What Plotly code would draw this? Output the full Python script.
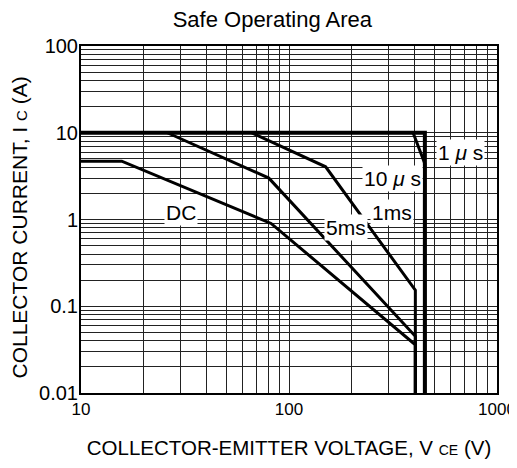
import numpy as np
import plotly.graph_objects as go

# ---- data ----
v_1us = [10, 450, 450]
i_1us = [10, 10, 0.01]

v_10us = [395, 450, 450]
i_10us = [10, 4.4, 0.01]

v_1ms = [66, 150, 405, 405]
i_1ms = [10, 4.05, 0.153, 0.01]

v_5ms = [26, 80, 405, 405]
i_5ms = [10, 3.0, 0.045, 0.01]

v_dc = [10, 15.7, 82, 405, 405]
i_dc = [4.7, 4.7, 0.9, 0.036, 0.01]

label_text = ["1 <i>μ</i> s", "10 <i>μ</i> s", "1ms", "5ms", "DC"]
label_v = [666, 314, 314, 187, 30.3]
label_i = [6.0, 3.0, 1.22, 0.80, 1.22]

x_tickvals = [10, 100, 1000]
x_ticktext = ["10", "100", "1000"]
y_tickvals = [0.01, 0.1, 1, 10, 100]
y_ticktext = ["0.01", "0.1", "1", "10", "100"]

FONT = "Liberation Sans, Arial, sans-serif"

fig = go.Figure()
series = [
    (v_1us, i_1us, 4),
    (v_10us, i_10us, 3),
    (v_1ms, i_1ms, 3),
    (v_5ms, i_5ms, 3),
    (v_dc, i_dc, 3),
]
for v, i, w in series:
    fig.add_trace(go.Scatter(x=v, y=i, mode="lines",
                             line=dict(color="black", width=w),
                             showlegend=False, hoverinfo="skip"))

for t, v, i in zip(label_text, label_v, label_i):
    fig.add_annotation(x=np.log10(v), y=np.log10(i), xref="x", yref="y",
                       text=t, showarrow=False, bgcolor="white",
                       font=dict(family=FONT, size=21, color="black"),
                       borderpad=1)

# y-axis title (rotated)
fig.add_annotation(x=0, y=0.5, xref="paper", yref="paper", xanchor="center", yanchor="middle",
                   xshift=-62, yshift=-8, textangle=-90, showarrow=False, borderpad=0,
                   text="COLLECTOR CURRENT, I <span style='font-size:15px'>C</span> (A)",
                   font=dict(family=FONT, size=21, color="black"))

grid_col = "#222222"
fig.update_xaxes(type="log", range=[1, 3], tickvals=x_tickvals, ticktext=x_ticktext,
                 showgrid=True, gridcolor=grid_col, gridwidth=1,
                 minor=dict(dtick="D1", showgrid=True, gridcolor=grid_col, gridwidth=1, ticks=""),
                 showline=True, linecolor="black", linewidth=2, mirror=True,
                 ticks="", zeroline=False, ticklabeloverflow="allow",
                 tickfont=dict(family=FONT, size=17, color="black"),
                 title=dict(text="COLLECTOR-EMITTER VOLTAGE, V <span style='font-size:14px'>CE</span> (V)",
                            font=dict(family=FONT, size=20.5, color="black"), standoff=22))
fig.update_yaxes(type="log", range=[-2, 2], tickvals=y_tickvals, ticktext=y_ticktext,
                 showgrid=True, gridcolor=grid_col, gridwidth=1,
                 minor=dict(dtick="D1", showgrid=True, gridcolor=grid_col, gridwidth=1, ticks=""),
                 showline=True, linecolor="black", linewidth=2, mirror=True,
                 ticks="", zeroline=False, ticklabeloverflow="allow", ticklabelstandoff=-3,
                 tickfont=dict(family=FONT, size=20, color="black"))

fig.update_layout(
    width=517, height=468,
    margin=dict(l=73, r=28, t=38, b=83, autoexpand=False),
    paper_bgcolor="white", plot_bgcolor="white",
    title=dict(text="Safe Operating Area", x=0.46, xref="paper", xanchor="center",
               y=0.976, yref="container", yanchor="middle",
               font=dict(family=FONT, size=22, color="black")),
)

fig.write_html("out.html")
